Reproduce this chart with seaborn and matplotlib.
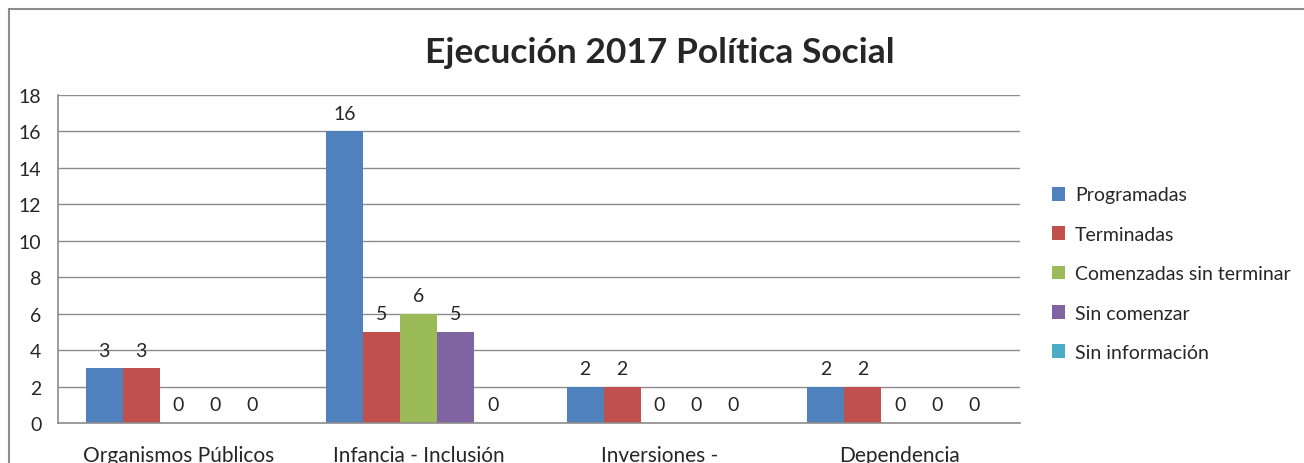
import numpy as np
import pandas as pd
import matplotlib
matplotlib.use("Agg")
import matplotlib.pyplot as plt
import matplotlib.patches as mpatches
import seaborn as sns

categories = ["Organismos Públicos", "Infancia - Inclusión", "Inversiones -", "Dependencia"]
series = ["Programadas", "Terminadas", "Comenzadas sin terminar", "Sin comenzar", "Sin información"]
programadas = [3, 16, 2, 2]
terminadas = [3, 5, 2, 2]
comenzadas = [0, 6, 0, 0]
sin_comenzar = [0, 5, 0, 0]
sin_info = [0, 0, 0, 0]
colors = ["#4F81BD", "#C0504D", "#9BBB59", "#8064A2", "#4BACC6"]

rows = []
for name, vals in zip(series, [programadas, terminadas, comenzadas, sin_comenzar, sin_info]):
    for cat, v in zip(categories, vals):
        rows.append({"categoria": cat, "serie": name, "valor": v})
df = pd.DataFrame(rows)

sns.set_style("white")
plt.rcParams["font.family"] = ["Lato", "DejaVu Sans"]

fig = plt.figure(figsize=(13.04, 4.64), dpi=100)
ax = fig.add_axes([58 / 1304, 1 - 424 / 464, (1020 - 58) / 1304, (424 - 96) / 464])

sns.barplot(data=df, x="categoria", y="valor", hue="serie", order=categories,
            hue_order=series, palette=colors, saturation=1, width=0.77,
            linewidth=0, ax=ax)

# etiquetas de valor encima de cada barra (incluidos los ceros)
for cont in ax.containers:
    ax.bar_label(cont, fmt="%d", padding=7, fontsize=14)

ax.set_ylim(0, 18)
ax.set_yticks(np.arange(0, 19, 2))
ax.set_xlim(-0.5, 3.5)
ax.yaxis.grid(True, color="#8c8c8c", linewidth=1)
ax.set_axisbelow(True)
for side in ["top", "right"]:
    ax.spines[side].set_visible(False)
for side in ["left", "bottom"]:
    ax.spines[side].set_color("#8c8c8c")
    ax.spines[side].set_linewidth(1.2)
ax.tick_params(axis="y", length=0, labelsize=14, pad=12)
ax.tick_params(axis="x", length=0, labelsize=15, pad=16)
ax.set_xlabel("")
ax.set_ylabel("")

handles, labels = ax.get_legend_handles_labels()
ax.get_legend().remove()
fig.legend(handles, labels, loc="upper left", bbox_to_anchor=(1034 / 1304, 1 - 170 / 464),
           frameon=False, fontsize=14, handlelength=0.7, handleheight=0.7,
           handletextpad=0.5, labelspacing=1.15)

fig.text(660 / 1304, 1 - 53 / 464, "Ejecución 2017 Política Social", ha="center", va="center",
         fontsize=25.5, fontweight="bold")

# borde del gráfico (cortado a la derecha y abajo como en la imagen)
fig.patches.append(mpatches.Rectangle((9 / 1304, -0.1), 1.2, 1.1 - 10 / 464, transform=fig.transFigure,
                                      fill=False, edgecolor="#8c8c8c", linewidth=1.5))

fig.savefig("out.png", dpi=100)
